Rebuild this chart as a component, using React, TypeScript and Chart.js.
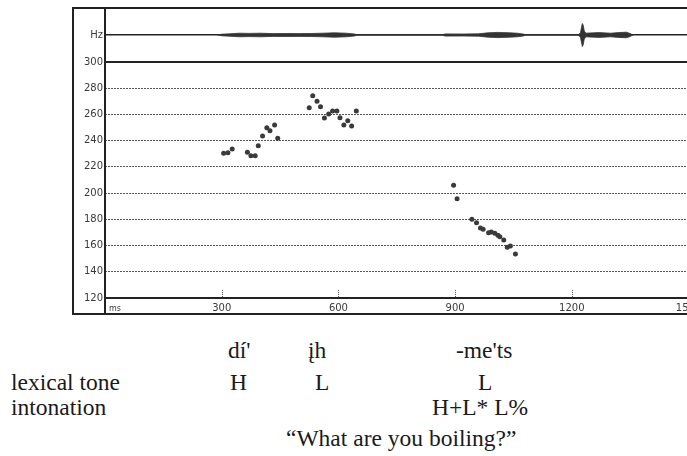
import React, { useEffect, useRef } from 'react';
import { Chart, registerables } from 'chart.js';

Chart.register(...registerables);

// Pitch track (time in ms, F0 in Hz)
const pitchMs = [305, 316, 327, 366, 375, 386, 394, 405, 416, 424, 436, 444,
  525, 534, 545, 554, 564, 575, 585, 596, 604, 614, 624, 634, 646,
  896, 905, 943, 955, 965, 972, 986, 993, 1002, 1010, 1015, 1025, 1034, 1042, 1055];
const pitchHz = [230.4, 230.8, 233.6, 231.1, 228.5, 228.5, 236.2, 243.6, 249.9, 247.6, 252, 241.8,
  265.2, 274.3, 270, 265.9, 257.3, 260.3, 262.6, 262.6, 257.5, 252, 255.2, 251.2, 262.6,
  206, 195.7, 180, 177.4, 173.4, 172.4, 169.8, 170.3, 169.4, 167.8, 166.8, 164.2, 158.7, 159.7, 153.6];

// Waveform envelope (time in ms, half amplitude)
const waveMs = [290, 300, 320, 346, 370, 400, 430, 460, 500, 530, 560, 590, 620, 640, 650,
  865, 875, 920, 960, 985, 1010, 1040, 1060, 1075, 1082,
  1215, 1222, 1224, 1227, 1229, 1232, 1236, 1245, 1270, 1300, 1320, 1340, 1350, 1357];
const waveAmp = [0, 0.8, 1.2, 1.8, 1.6, 1.8, 1.4, 1.5, 1.4, 1.5, 1.8, 2.2, 1.8, 1.1, 0,
  0, 1.1, 1.0, 1.2, 2.2, 2.6, 2.2, 1.8, 1.0, 0,
  0, 2, 6, 11.5, 10, 4, 1.8, 2, 2.4, 1.8, 2.4, 2.8, 1.5, 0];

const pitchTicks = [120, 140, 160, 180, 200, 220, 240, 260, 280, 300];
const timeTicks = [0, 300, 600, 900, 1200, 1500];
const timeUnit = 'ms';
const waveLabel = 'Hz';

const syllables = ["dí'", 'įh', "-me'ts"];
const lexicalTones = ['H', 'L', 'L'];
const intonation = 'H+L* L%';
const translation = '\u201cWhat are you boiling?\u201d';

const tickFont = { family: 'DejaVu Sans', size: 10 };
const tickColor = '#3a3a3a';

const framePlugin = {
  id: 'frame',
  afterDraw(chart: any) {
    const { ctx, chartArea, scales } = chart;
    const x = scales.x;
    const y = scales.y;
    const y120 = y.getPixelForValue(120);
    ctx.save();
    // tick marks above x-axis
    ctx.strokeStyle = '#555';
    ctx.lineWidth = 1;
    ctx.setLineDash([1, 1]);
    for (const t of timeTicks) {
      if (t === 0) continue;
      const px = Math.round(x.getPixelForValue(t)) + 0.5;
      ctx.beginPath();
      ctx.moveTo(px, y120 - 8);
      ctx.lineTo(px, y120 - 1);
      ctx.stroke();
    }
    ctx.setLineDash([]);
    // frame
    ctx.strokeStyle = '#222';
    ctx.lineWidth = 2;
    const left = 73;
    const top = chartArea.top;
    const bottom = chartArea.bottom + 16;
    const right = chart.width + 5;
    ctx.beginPath();
    ctx.moveTo(right, top);
    ctx.lineTo(left, top);
    ctx.lineTo(left, bottom);
    ctx.lineTo(right, bottom);
    ctx.moveTo(chartArea.left, top);
    ctx.lineTo(chartArea.left, bottom);
    ctx.stroke();
    // unit label
    ctx.fillStyle = tickColor;
    ctx.font = '8px "DejaVu Sans"';
    ctx.textBaseline = 'middle';
    ctx.textAlign = 'left';
    ctx.fillText(timeUnit, chartArea.left + 4, chartArea.bottom + 11);
    ctx.restore();
  },
};

export default function App() {
  const ref = useRef<HTMLCanvasElement | null>(null);

  useEffect(() => {
    if (!ref.current) return;
    const chart = new Chart(ref.current, {
      type: 'scatter',
      data: {
        datasets: [
          {
            type: 'line',
            data: waveMs.map((t, i) => ({ x: t, y: waveAmp[i] })),
            yAxisID: 'yw',
            borderColor: '#333',
            borderWidth: 0.8,
            pointRadius: 0,
            fill: false,
          },
          {
            type: 'line',
            data: waveMs.map((t, i) => ({ x: t, y: -waveAmp[i] })),
            yAxisID: 'yw',
            borderColor: '#333',
            borderWidth: 0.8,
            backgroundColor: '#333',
            pointRadius: 0,
            fill: '-1',
          },
          {
            type: 'scatter',
            data: pitchMs.map((t, i) => ({ x: t, y: pitchHz[i] })),
            yAxisID: 'y',
            pointRadius: 2.5,
            pointBorderWidth: 0,
            pointBackgroundColor: '#3a3a3a',
            pointBorderColor: '#3a3a3a',
          },
        ],
      },
      options: {
        responsive: false,
        animation: false,
        devicePixelRatio: 1,
        layout: { padding: { left: 73, top: 8, right: 8, bottom: 6 } },
        plugins: { legend: { display: false }, tooltip: { enabled: false } },
        scales: {
          y: {
            type: 'linear',
            position: 'left',
            stack: 'st',
            stackWeight: 236,
            min: 120,
            max: 300,
            afterBuildTicks: (s: any) => { s.ticks = pitchTicks.map((v) => ({ value: v })); },
            afterFit: (s: any) => { s.width = 32; },
            ticks: { font: tickFont, color: tickColor, padding: 2, autoSkip: false },
            grid: {
              drawTicks: false,
              color: (c: any) => (c.tick && (c.tick.value === 120 || c.tick.value === 300) ? '#222' : '#555'),
              lineWidth: (c: any) => (c.tick && (c.tick.value === 120 || c.tick.value === 300) ? 2 : 1),
            },
            border: {
              display: false,
              dash: (c: any) => (c.tick && (c.tick.value === 120 || c.tick.value === 300) ? [] : [2, 1]),
            },
          },
          yw: {
            type: 'linear',
            position: 'left',
            stack: 'st',
            stackWeight: 54,
            min: -27,
            max: 27,
            afterBuildTicks: (s: any) => { s.ticks = [{ value: 0 }]; },
            afterFit: (s: any) => { s.width = 32; },
            ticks: { callback: () => waveLabel, font: tickFont, color: tickColor, padding: 2, autoSkip: false },
            grid: { color: '#222', lineWidth: 1.5, drawTicks: false },
            border: { display: false },
          },
          x: {
            type: 'linear',
            position: 'bottom',
            min: 0,
            max: 1550,
            afterBuildTicks: (s: any) => { s.ticks = timeTicks.map((v) => ({ value: v })); },
            afterFit: (s: any) => { s.height = 16; },
            ticks: {
              callback: (v: any) => (v === 0 ? '' : String(v)),
              font: tickFont,
              color: tickColor,
              padding: 4,
              maxRotation: 0,
              autoSkip: false,
            },
            grid: { display: false, drawTicks: false },
            border: { display: false },
          },
        },
      },
      plugins: [framePlugin],
    } as any);
    return () => chart.destroy();
  }, []);

  const textStyle: React.CSSProperties = {
    position: 'absolute',
    fontFamily: '"Liberation Serif", serif',
    fontSize: '23.5px',
    lineHeight: '23.5px',
    whiteSpace: 'nowrap',
    color: '#1a1a1a',
  };

  return (
    <div style={{ position: 'fixed', left: 0, top: 0, width: 687, height: 456, overflow: 'hidden', background: '#fff' }}>
      <canvas ref={ref} width={716} height={320} style={{ display: 'block', width: 716, height: 320 }} />
      <div style={{ ...textStyle, left: 228, top: 339 }}>{syllables[0]}</div>
      <div style={{ ...textStyle, left: 308, top: 339 }}>{syllables[1]}</div>
      <div style={{ ...textStyle, left: 456, top: 339 }}>{syllables[2]}</div>
      <div style={{ ...textStyle, left: 11, top: 371 }}>lexical tone</div>
      <div style={{ ...textStyle, left: 230, top: 371 }}>{lexicalTones[0]}</div>
      <div style={{ ...textStyle, left: 315, top: 371 }}>{lexicalTones[1]}</div>
      <div style={{ ...textStyle, left: 478, top: 371 }}>{lexicalTones[2]}</div>
      <div style={{ ...textStyle, left: 11, top: 396 }}>intonation</div>
      <div style={{ ...textStyle, left: 432, top: 396 }}>{intonation}</div>
      <div style={{ ...textStyle, left: 286, top: 427 }}>{translation}</div>
    </div>
  );
}
